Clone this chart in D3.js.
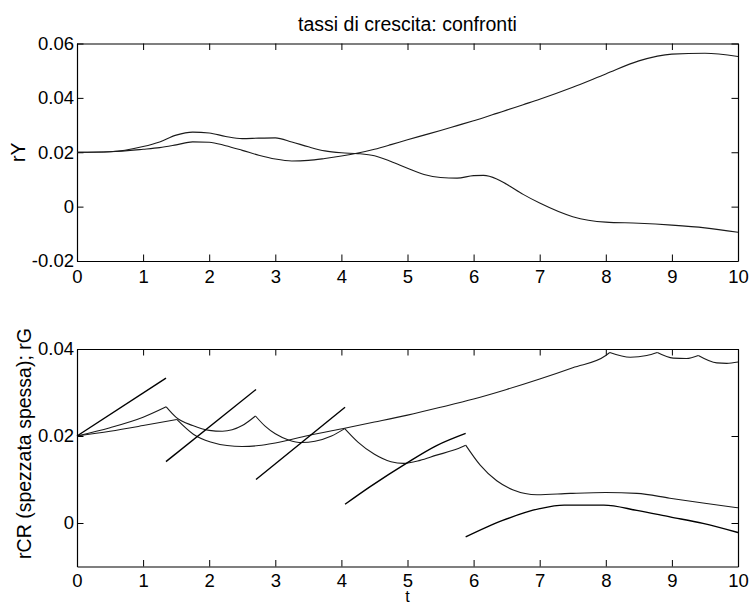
<!DOCTYPE html>
<html><head><meta charset="utf-8">
<script src="https://cdn.jsdelivr.net/npm/d3@7/dist/d3.min.js"></script>
<style>
body{margin:0;background:#fff}
svg{display:block}
text{font-family:"Liberation Sans",Arial,Helvetica,sans-serif;fill:#000}
</style>
</head><body>
<svg id="c" width="751" height="606"></svg>
<script>
// ---------- data ----------
const titleText = "tassi di crescita: confronti";
const xTicks = [0,1,2,3,4,5,6,7,8,9,10];
const xTickLabels = ["0","1","2","3","4","5","6","7","8","9","10"];
const yTopTicks = [-0.02,0,0.02,0.04,0.06];
const yTopTickLabels = ["-0.02","0","0.02","0.04","0.06"];
const yBotTicks = [0,0.02,0.04];
const yBotTickLabels = ["0","0.02","0.04"];

// top panel: rY
const tY = [0,0.5,1,1.25,1.5,1.75,2,2.25,2.5,2.75,3,3.25,3.5,3.75,4,4.25,4.5,4.75,5,5.25,5.5,5.75,6,6.15,6.35,6.5,6.75,7,7.5,8,8.5,9,9.5,10];
const rY1 = [0.02,0.0202,0.0221,0.0238,0.0263,0.0274,0.0271,0.0258,0.025,0.0252,0.0253,0.0238,0.022,0.0205,0.0198,0.0195,0.0187,0.0166,0.0141,0.0118,0.0107,0.0105,0.0114,0.0115,0.0102,0.0082,0.0045,0.0013,-0.0037,-0.0057,-0.0061,-0.0068,-0.0078,-0.0094];
const rY2 = [0.02,0.0202,0.0211,0.0217,0.0227,0.0238,0.0237,0.0224,0.0207,0.0189,0.0175,0.0168,0.017,0.0177,0.0186,0.0197,0.0211,0.0228,0.0246,0.0263,0.028,0.0298,0.0316,0.0327,0.0343,0.0355,0.0375,0.0395,0.0439,0.0488,0.0536,0.0561,0.0564,0.0552];

// bottom panel: rG (kinked curve)
const rG_t = [0,0.5,1,1.51,1.76,2.02,2.27,2.5,2.75,3,3.5,4.05,4.5,5,5.5,6,6.5,7,7.5,8,8.06,8.37,8.62,8.78,9.02,9.22,9.4,9.68,9.83,10];
const rG_v = [0.02,0.0211,0.0224,0.0238,0.0204,0.0186,0.0178,0.0176,0.0178,0.0184,0.0201,0.0218,0.0232,0.0248,0.0266,0.0285,0.0307,0.0331,0.0357,0.0385,0.0392,0.0381,0.0385,0.0392,0.0379,0.0378,0.0385,0.0368,0.0367,0.037];
const rG_kinks = [1.51,8.06,8.78,9.4];

// bottom panel: second kinked curve
const rC_t = [0,0.5,1,1.35,1.5,1.75,2,2.2,2.5,2.7,2.85,3,3.2,3.4,3.6,3.85,4.05,4.25,4.5,4.75,4.94,5.19,5.44,5.69,5.88,6.1,6.35,6.6,6.96,7.46,8,8.47,8.97,9.47,10];
const rC_v = [0.02,0.0219,0.0243,0.0267,0.0243,0.0224,0.0213,0.0211,0.0224,0.0246,0.0222,0.0205,0.0191,0.0185,0.0188,0.02,0.0217,0.0186,0.0158,0.0141,0.0137,0.0144,0.0156,0.0167,0.0179,0.0133,0.0097,0.0076,0.0065,0.0068,0.007,0.0068,0.0057,0.0046,0.0035];
const rC_kinks = [1.35,2.7,4.05,5.88];

// bottom panel: rCR thick broken line (5 separate pieces)
const rCR1_t = [0,1.346], rCR1_v = [0.02,0.0333];
const rCR2_t = [1.346,2.708], rCR2_v = [0.0141,0.0307];
const rCR3_t = [2.708,4.055], rCR3_v = [0.01,0.0266];
const rCR4_t = [4.055,4.43,5,5.44,5.88], rCR4_v = [0.0043,0.0083,0.0139,0.0178,0.0206];
const rCR5_t = [5.88,6.44,7,7.37,7.97,8.47,8.97,9.47,10], rCR5_v = [-0.0032,0.0006,0.0033,0.0041,0.0041,0.0029,0.0014,-0.0001,-0.0022];

// ---------- drawing ----------
const svg = d3.select("#c");
const L = 77, R = 738;
const x = d3.scaleLinear().domain([0,10]).range([L,R]);
const yTop = d3.scaleLinear().domain([-0.02,0.06]).range([261,43.5]);
const yBot = d3.scaleLinear().domain([-0.01,0.04]).range([566.5,349]);
const TICK = 6.5, FS = 18.5;

function zip(t,v){ return t.map((d,i)=>[d,v[i]]); }
function splitAt(pts,kinks){
  const out=[]; let cur=[];
  pts.forEach(p=>{ cur.push(p); if(kinks.includes(p[0])){ out.push(cur); cur=[p]; } });
  if(cur.length>1) out.push(cur);
  return out;
}

function panel(y, yTicks, yLabels, xPad){
  const g = svg.append("g");
  const [yb, yt] = y.range();
  const fmtX = (d,i)=>xTickLabels[i];
  const fmtY = (d,i)=>yLabels[i];
  g.append("g").attr("transform",`translate(0,${yb})`)
    .call(d3.axisBottom(x).tickValues(xTicks).tickFormat(fmtX).tickSize(-TICK).tickSizeOuter(0).tickPadding(xPad));
  g.append("g").attr("transform",`translate(0,${yt})`)
    .call(d3.axisTop(x).tickValues(xTicks).tickFormat("").tickSize(-TICK).tickSizeOuter(0));
  g.append("g").attr("transform",`translate(${L},0)`)
    .call(d3.axisLeft(y).tickValues(yTicks).tickFormat(fmtY).tickSize(-TICK).tickSizeOuter(0).tickPadding(3));
  g.append("g").attr("transform",`translate(${R},0)`)
    .call(d3.axisRight(y).tickValues(yTicks).tickFormat("").tickSize(-TICK).tickSizeOuter(0));
  g.selectAll(".domain").attr("stroke","#000").attr("stroke-width",1.2);
  g.selectAll(".tick line").attr("stroke","#000").attr("stroke-width",1);
  g.selectAll(".tick text").attr("font-size",FS).attr("fill","#000")
    .style("font-family",'"Liberation Sans",Arial,sans-serif');
  return g;
}

function drawCurve(y, pts, width, color, curve){
  svg.append("path").datum(pts)
    .attr("fill","none").attr("stroke",color).attr("stroke-width",width)
    .attr("stroke-linejoin","round")
    .attr("d", d3.line().x(d=>x(d[0])).y(d=>y(d[1])).curve(curve));
}

// top panel
panel(yTop, yTopTicks, yTopTickLabels, 9);
drawCurve(yTop, zip(tY,rY1), 1.1, "#1a1a1a", d3.curveMonotoneX);
drawCurve(yTop, zip(tY,rY2), 1.1, "#1a1a1a", d3.curveMonotoneX);

// bottom panel
panel(yBot, yBotTicks, yBotTickLabels, 7.5);
splitAt(zip(rG_t,rG_v), rG_kinks).forEach(seg=>drawCurve(yBot, seg, 1.1, "#1a1a1a", d3.curveMonotoneX));
splitAt(zip(rC_t,rC_v), rC_kinks).forEach(seg=>drawCurve(yBot, seg, 1.1, "#1a1a1a", d3.curveMonotoneX));
[[rCR1_t,rCR1_v],[rCR2_t,rCR2_v],[rCR3_t,rCR3_v],[rCR4_t,rCR4_v],[rCR5_t,rCR5_v]]
  .forEach(([t,v])=>drawCurve(yBot, zip(t,v), 1.4, "#000", d3.curveMonotoneX));

// title and labels
svg.append("text").attr("x",(L+R)/2).attr("y",31).attr("text-anchor","middle")
  .attr("font-size",19.5).text(titleText);
svg.append("text").attr("transform",`translate(25,${(43.5+261)/2}) rotate(-90)`)
  .attr("text-anchor","middle").attr("font-size",19.5).text("rY");
svg.append("text").attr("transform",`translate(31,443.5) rotate(-90)`)
  .attr("text-anchor","middle").attr("font-size",19.5).text("rCR (spezzata spessa); rG");
svg.append("text").attr("x",x(5)).attr("y",602).attr("text-anchor","middle")
  .attr("font-size",16).text("t");
</script>
</body></html>
